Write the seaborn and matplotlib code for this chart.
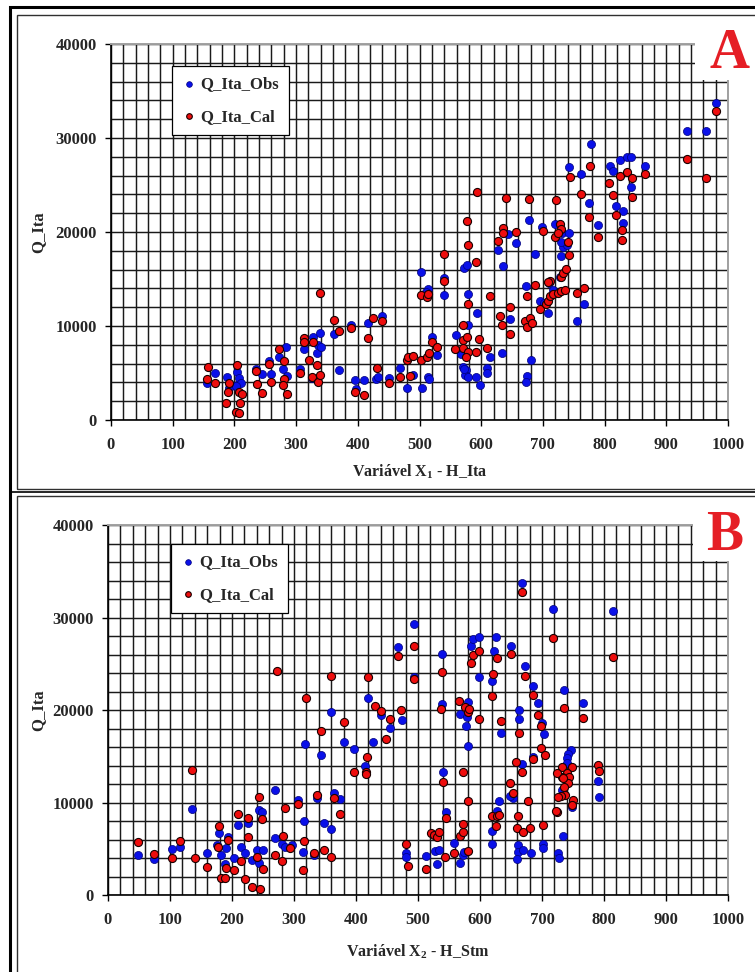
import matplotlib
matplotlib.use("Agg")
import matplotlib.pyplot as plt
import seaborn as sns
import pandas as pd
from matplotlib.ticker import MultipleLocator, FixedLocator
from matplotlib.patches import Rectangle
from matplotlib.lines import Line2D

# ---------------- data ----------------
series_names = ["Q_Ita_Obs", "Q_Ita_Cal"]
x_ticks = [0, 100, 200, 300, 400, 500, 600, 700, 800, 900, 1000]
y_ticks = [0, 10000, 20000, 30000, 40000]
panel_letters = ["A", "B"]
x_labels = ["Variável X$_1$ - H_Ita", "Variável X$_2$ - H_Stm"]
y_label = "Q_Ita"

# Panel A : Q_Ita vs H_Ita
a_obs_x = [155, 169, 188, 191, 204, 205, 208, 211, 202, 235, 245, 256, 259, 272, 279, 283, 285, 307, 312, 327,
           334, 338, 336, 341, 326, 362, 370, 389, 396, 410, 417, 429, 397, 433, 439, 450, 468, 480, 490, 504,
           513, 516, 520, 529, 502, 513, 511, 540, 540, 559, 567, 571, 575, 574, 578, 572, 578, 579, 572, 577,
           594, 591, 598, 609, 609, 615, 633, 628, 636, 644, 656, 646, 677, 687, 673, 674, 673, 680, 699, 720,
           731, 743, 743, 761, 778, 775, 789, 808, 813, 825, 837, 842, 865, 842, 818, 830, 830, 696, 702, 709,
           710, 716, 727, 732, 739, 729, 729, 767, 756, 933, 964, 980]
a_obs_y = [3900, 4960, 4540, 3370, 5140, 3720, 4430, 3900, 3650, 5390, 4860, 6310, 4890, 6740, 5430, 7800, 4680,
           5430, 7590, 8870, 7160, 9220, 7980, 7800, 4430, 9110, 5320, 10100, 4260, 4260, 10350, 4330, 3260, 4610,
           11060, 4430, 5530, 3370, 4780, 3370, 4610, 4320, 8860, 6910, 15780, 13900, 13650, 15140, 13300, 9040,
           7020, 5600, 5320, 4780, 4610, 5390, 10100, 13370, 16200, 16490, 11350, 4540, 3720, 5500, 5030, 6740,
           7090, 18090, 16420, 19750, 18870, 10710, 21280, 17660, 14290, 4710, 4080, 6380, 20570, 20850, 19860,
           19900, 26950, 26140, 29370, 23050, 20750, 27000, 26530, 27660, 28020, 28020, 27020, 24830, 22770,
           22240, 20920, 12700, 12410, 11350, 14540, 13830, 15250, 18440, 18620, 18970, 17450, 12340, 10530,
           30780, 30780, 33760]
a_cal_x = [158, 155, 169, 186, 189, 191, 205, 207, 212, 209, 203, 208, 235, 236, 245, 256, 259, 272, 281, 280,
           279, 285, 307, 312, 312, 321, 326, 328, 334, 335, 339, 338, 362, 370, 389, 396, 410, 417, 425, 431,
           439, 451, 468, 480, 482, 490, 485, 502, 512, 516, 520, 529, 502, 512, 513, 539, 540, 594, 577, 578,
           591, 578, 571, 614, 631, 633, 646, 646, 571, 577, 571, 579, 575, 558, 591, 597, 609, 635, 636, 628,
           656, 641, 677, 721, 700, 720, 728, 730, 725, 741, 742, 687, 674, 712, 671, 674, 679, 682, 696, 705,
           709, 712, 717, 725, 729, 736, 730, 733, 737, 709, 756, 766, 744, 761, 774, 777, 789, 807, 813, 819,
           825, 829, 829, 836, 844, 844, 865, 933, 964, 980]
a_cal_y = [5600, 4330, 3970, 1840, 3010, 3970, 5850, 3010, 2730, 1770, 820, 710, 5210, 3790, 2910, 5960, 4080,
           7520, 6310, 4330, 3720, 2770, 4960, 8690, 8260, 6380, 4610, 8260, 5850, 4080, 4790, 13480, 10640, 9470,
           9750, 3010, 2660, 8690, 10890, 5500, 10570, 3970, 4540, 6380, 6740, 6810, 4680, 6380, 6740, 7090, 8260,
           7730, 13300, 13120, 13370, 17630, 14790, 24220, 21210, 18620, 16850, 12300, 10100, 13230, 11100, 10100,
           12050, 9150, 8510, 8790, 7620, 7270, 6740, 7520, 7270, 8580, 7620, 20430, 19860, 19080, 20040, 23580,
           23510, 23410, 20140, 19440, 20850, 20290, 19860, 18970, 17550, 14360, 13230, 14820, 10530, 9930, 10820,
           10290, 11770, 12300, 12660, 13190, 13400, 13480, 13760, 13830, 15250, 15600, 16030, 14720, 13480, 14010,
           25890, 24050, 21560, 27020, 19430, 25180, 23940, 21810, 25990, 20210, 19150, 26420, 25710, 23690, 26140,
           27730, 25780, 32910]

# Panel B : Q_Ita vs H_Stm
b_obs_x = [48, 74, 104, 116, 136, 159, 179, 176, 183, 190, 189, 193, 204, 210, 214, 221, 226, 232, 241, 244,
           243, 248, 250, 270, 270, 281, 285, 296, 307, 316, 314, 318, 333, 337, 344, 349, 359, 364, 374, 380,
           397, 414, 428, 359, 420, 440, 455, 474, 468, 494, 493, 539, 538, 541, 581, 567, 580, 579, 577, 585,
           589, 599, 599, 626, 622, 620, 650, 634, 672, 685, 694, 700, 704, 663, 663, 685, 667, 630, 627, 620,
           620, 661, 661, 670, 682, 660, 701, 702, 734, 726, 728, 736, 667, 717, 814, 766, 790, 792, 747, 742,
           741, 740, 732, 748, 480, 481, 513, 527, 534, 531, 545, 558, 567, 572, 574, 654, 648]
b_obs_y = [4300, 3900, 4950, 5230, 9280, 4510, 6680, 5420, 4300, 5050, 3360, 6320, 3970, 7580, 5160, 4510, 7830,
           3790, 4870, 3500, 9210, 8920, 4870, 11370, 6140, 5490, 5230, 5420, 10220, 8050, 4620, 16350, 4330, 10540,
           15160, 7760, 7150, 11080, 10360, 16500, 15810, 13900, 16500, 19820, 21260, 19450, 18010, 18920, 26840,
           29300, 23600, 26050, 20640, 13330, 16140, 19560, 20900, 19270, 18300, 26920, 27630, 27920, 23530, 27920,
           26410, 23130, 26950, 17470, 24750, 22630, 20720, 18550, 17400, 20000, 18990, 14950, 14160, 10190, 9080,
           6950, 5470, 5400, 4680, 4860, 4500, 3850, 5470, 5040, 6370, 4500, 4030, 22160, 33760, 30880, 30740,
           20790, 12360, 10550, 15670, 15240, 14770, 14230, 11350, 9470, 4500, 4140, 4210, 4750, 4860, 3310, 8930,
           5580, 3420, 4320, 4680, 10450, 10700]
b_cal_x = [48, 74, 104, 116, 136, 140, 159, 179, 178, 183, 189, 190, 193, 204, 210, 214, 221, 225, 226, 232,
           241, 245, 244, 248, 250, 270, 283, 280, 285, 294, 307, 316, 314, 333, 337, 344, 349, 359, 364, 374,
           380, 397, 416, 416, 417, 272, 320, 359, 420, 431, 440, 455, 448, 473, 468, 494, 493, 539, 537, 541,
           572, 581, 566, 576, 580, 582, 589, 599, 585, 599, 627, 621, 620, 650, 634, 672, 685, 694, 698, 663,
           699, 705, 685, 658, 667, 648, 654, 620, 627, 630, 626, 678, 661, 660, 670, 681, 701, 724, 736, 667,
           717, 814, 766, 790, 792, 733, 748, 740, 744, 732, 742, 735, 737, 730, 750, 749, 722, 726, 724, 734,
           480, 484, 513, 521, 525, 530, 534, 543, 545, 558, 567, 572, 573, 581]
b_cal_y = [5700, 4400, 3970, 5850, 13470, 3970, 3070, 7470, 5160, 1880, 1880, 2960, 5960, 2710, 8740, 3720, 1730,
           8300, 6250, 900, 4150, 610, 10580, 8230, 2820, 4330, 6390, 3720, 9390, 5050, 9860, 5880, 2710, 4580,
           10830, 17690, 4870, 4150, 10470, 8740, 18660, 13250, 13250, 13070, 14870, 24210, 21260, 23670, 23530,
           20460, 19890, 18990, 16830, 19990, 25870, 26950, 23350, 24140, 20100, 12250, 13260, 10160, 20970, 20360,
           19820, 20100, 25940, 26410, 25110, 18990, 25650, 23890, 21510, 26050, 18840, 23710, 21620, 19450, 18300,
           17540, 15850, 15130, 14700, 14340, 13260, 12140, 11060, 8540, 8570, 8640, 7490, 10160, 8570, 7270, 6840,
           7270, 7560, 9000, 20250, 32790, 27740, 25760, 19090, 14050, 13440, 13800, 13800, 13220, 12790, 12790,
           12140, 11710, 10800, 10700, 10270, 9725, 9110, 10630, 13150, 12680, 5510, 3130, 2770, 6730, 6480, 6300,
           6840, 4140, 8280, 4500, 6370, 6840, 7670, 4750]

# ---------------- style ----------------
sns.set_theme(style="white")
plt.rcParams["font.family"] = ["Liberation Serif", "DejaVu Serif"]
plt.rcParams["font.weight"] = "bold"
plt.rcParams["mathtext.default"] = "regular"

W, H = 755, 972
fig = plt.figure(figsize=(W / 100, H / 100), dpi=100)
fig.patch.set_facecolor("white")


def fx(px):
    return px / W


def fy(py):
    return 1 - py / H


obs_color = "#0a10e8"
cal_color = "#ee0d0d"
letter_color = "#e51e25"

panels = [
    dict(ox=a_obs_x, oy=a_obs_y, cx=a_cal_x, cy=a_cal_y,
         box=(111, 728, 44, 420), leg=(172, 66), mask_x=947, letter=(729, 68), xlab_py=463),
    dict(ox=b_obs_x, oy=b_obs_y, cx=b_cal_x, cy=b_cal_y,
         box=(108, 728, 525, 895), leg=(171, 544), mask_x=943, letter=(725, 550), xlab_py=943),
]

for i, p in enumerate(panels):
    l, r, t, b = p["box"]
    ax = fig.add_axes([fx(l), fy(b), (r - l) / W, (b - t) / H])
    ax.set_facecolor("white")
    df = pd.concat([
        pd.DataFrame({"x": p["ox"], "y": p["oy"], "serie": series_names[0]}),
        pd.DataFrame({"x": p["cx"], "y": p["cy"], "serie": series_names[1]}),
    ], ignore_index=True)
    sns.scatterplot(data=df[df.serie == series_names[0]], x="x", y="y", ax=ax, color=obs_color,
                    edgecolor="#00007a", linewidth=0.5, s=34, label=series_names[0], zorder=3)
    sns.scatterplot(data=df[df.serie == series_names[1]], x="x", y="y", ax=ax, color=cal_color,
                    edgecolor="#1a0000", linewidth=0.8, s=34, label=series_names[1], zorder=4)

    ax.set_xlim(0, 1000)
    ax.set_ylim(0, 40000)
    ax.xaxis.set_major_locator(FixedLocator(x_ticks))
    ax.yaxis.set_major_locator(FixedLocator(y_ticks))
    ax.xaxis.set_minor_locator(MultipleLocator(20))
    ax.yaxis.set_minor_locator(MultipleLocator(2000))
    ax.set_xticklabels([str(v) for v in x_ticks])
    ax.set_yticklabels([str(v) for v in y_ticks])
    ax.set_axisbelow(True)
    ax.grid(which="both", color="#1a1a1a", linewidth=1.05)
    ax.tick_params(which="major", direction="out", length=4, width=1.0, color="black",
                   labelsize=12, bottom=True, left=True)
    ax.tick_params(axis="x", which="major", pad=8)
    ax.tick_params(axis="y", which="major", pad=6)
    ax.tick_params(which="minor", length=0)
    for lab in ax.get_xticklabels() + ax.get_yticklabels():
        lab.set_fontweight("bold")
    for s in ["left", "bottom"]:
        ax.spines[s].set_color("black")
        ax.spines[s].set_linewidth(1.2)
    for s in ["top", "right"]:
        ax.spines[s].set_color("#a0a0a0")
        ax.spines[s].set_linewidth(1.4)

    ax.set_xlabel(x_labels[i], fontsize=11.5, fontweight="bold")
    ax.set_ylabel(y_label, fontsize=12, fontweight="bold")
    ax.xaxis.set_label_coords(0.5, (b - p["xlab_py"]) / (b - t))
    ax.yaxis.set_label_coords((46 - l) / (r - l), 0.5)

    lx, ly = p["leg"]
    leg = ax.legend(loc="upper left", bbox_to_anchor=((lx - l) / (r - l), (b - ly) / (b - t)),
                    frameon=True, fancybox=False, edgecolor="black", framealpha=1, borderaxespad=0,
                    borderpad=0.6, labelspacing=1.0, handlelength=0.8, handletextpad=0.3,
                    markerscale=0.7, prop={"weight": "bold", "size": 12})
    leg.get_frame().set_linewidth(0.9)
    leg.set_zorder(6)

    # white box behind the panel letter
    ax.add_patch(Rectangle((p["mask_x"], 36150), 400, 12000, facecolor="white", edgecolor="none",
                           zorder=10, clip_on=False))
    lxp, lyp = p["letter"]
    fig.text(fx(lxp), fy(lyp), panel_letters[i], ha="center", va="baseline", color=letter_color,
             fontsize=40, fontweight="bold", zorder=20)

# ---------------- panel frames ----------------
fig.add_artist(Rectangle((fx(10), fy(990)), fx(770) - fx(10), fy(7) - fy(990),
                         transform=fig.transFigure, fill=False, edgecolor="black", linewidth=2.2, zorder=30))
fig.add_artist(Rectangle((fx(17), fy(489)), fx(770) - fx(17), fy(15) - fy(489),
                         transform=fig.transFigure, fill=False, edgecolor="#303030", linewidth=1.0, zorder=30))
fig.add_artist(Rectangle((fx(17), fy(990)), fx(770) - fx(17), fy(496) - fy(990),
                         transform=fig.transFigure, fill=False, edgecolor="#303030", linewidth=1.0, zorder=30))
fig.add_artist(Line2D([fx(10), fx(770)], [fy(492.5), fy(492.5)], transform=fig.transFigure,
                      color="black", linewidth=1.2, zorder=30))

fig.savefig("out.png", dpi=100, facecolor="white")
